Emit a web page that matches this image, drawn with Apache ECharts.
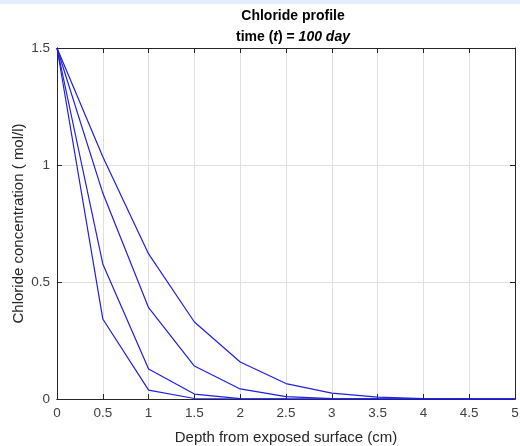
<!DOCTYPE html>
<html><head><meta charset="utf-8">
<script src="https://cdn.jsdelivr.net/npm/echarts@6/dist/echarts.min.js"></script>
<style>html,body{margin:0;padding:0;background:#fff}#c{width:520px;height:446px}</style>
</head><body><div id="c"></div>
<script>
var depth = [0, 0.5, 1, 1.5, 2, 2.5, 3, 3.5, 4, 4.5, 5];
var profileA = [1.5, 1.035, 0.62, 0.329, 0.158, 0.066, 0.025, 0.008, 0.002, 0.0005, 0.0001];
var profileB = [1.5, 0.88, 0.39, 0.141, 0.043, 0.010, 0.002, 0.0004, 0.0001, 0, 0];
var profileC = [1.5, 0.577, 0.128, 0.021, 0.002, 0.0002, 0, 0, 0, 0, 0];
var profileD = [1.5, 0.342, 0.038, 0.002, 0.0001, 0, 0, 0, 0, 0, 0];

function pairs(v){ return depth.map(function(d,i){ return [d, v[i]]; }); }
var chart = echarts.init(document.getElementById('c'));
var font = 'Liberation Sans, Arial, Helvetica, sans-serif';
var axisCol = '#262626';
var lineCol = '#1f1fe6';
var series = [profileA, profileB, profileC, profileD].map(function(v){
  return {type:'line', data:pairs(v), symbol:'none', xAxisIndex:0, yAxisIndex:0,
    lineStyle:{color:lineCol, width:1.2}, itemStyle:{color:lineCol}, animation:false};
});
function boxX(pos){
  return {type:'value', position:pos, min:0, max:5, interval:0.5,
    axisLine:{show:true, onZero:false, lineStyle:{color:axisCol}},
    axisTick:{show:true, inside:true, length:5, lineStyle:{color:axisCol, width:1}},
    axisLabel:{show:false}, splitLine:{show:false}};
}
function boxY(pos){
  return {type:'value', position:pos, min:0, max:1.5, interval:0.5,
    axisLine:{show:true, onZero:false, lineStyle:{color:axisCol}},
    axisTick:{show:true, inside:true, length:5, lineStyle:{color:axisCol, width:1}},
    axisLabel:{show:false}, splitLine:{show:false}};
}
chart.setOption({
  animation:false,
  graphic:[{type:'rect', shape:{x:0,y:0,width:520,height:4}, style:{fill:'#e3eefa'}}],
  title:{
    text:'Chloride profile\n{n|time (}{i|t}{n|) = }{i|100 day}',
    left:288, top:1, textAlign:'center',
    textStyle:{fontFamily:font, fontSize:14, fontWeight:'bold', color:'#000', lineHeight:21,
      rich:{n:{fontFamily:font, fontSize:14, fontWeight:'bold', color:'#000'},
            i:{fontFamily:font, fontSize:14, fontWeight:'bold', fontStyle:'italic', color:'#000'}}}
  },
  grid:{left:57, right:5, top:48, bottom:47, containLabel:false, outerBoundsMode:'none'},
  xAxis:[{
    type:'value', min:0, max:5, interval:0.5,
    name:'Depth from exposed surface (cm)', nameLocation:'middle', nameGap:31, nameMoveOverlap:false,
    nameTextStyle:{fontFamily:font, fontSize:15, color:axisCol},
    axisLine:{show:true, onZero:false, lineStyle:{color:axisCol}},
    axisTick:{show:false},
    axisLabel:{fontFamily:font, fontSize:13.5, color:'#404040', margin:7,
      formatter:function(v){ return String(v); }},
    splitLine:{show:true, lineStyle:{color:'#e0e0e0', width:1}}
  }, boxX('top'), boxX('bottom')],
  yAxis:[{
    type:'value', min:0, max:1.5, interval:0.5,
    name:'Chloride concentration ( mol/l)', nameLocation:'middle', nameGap:31, nameMoveOverlap:false,
    nameTextStyle:{fontFamily:font, fontSize:15, color:axisCol},
    axisLine:{show:true, onZero:false, lineStyle:{color:axisCol}},
    axisTick:{show:false},
    axisLabel:{fontFamily:font, fontSize:13.5, color:'#404040', margin:7,
      formatter:function(v){ return String(v); }},
    splitLine:{show:true, lineStyle:{color:'#e0e0e0', width:1}}
  }, boxY('right'), boxY('left')],
  series:series
});
</script></body></html>
